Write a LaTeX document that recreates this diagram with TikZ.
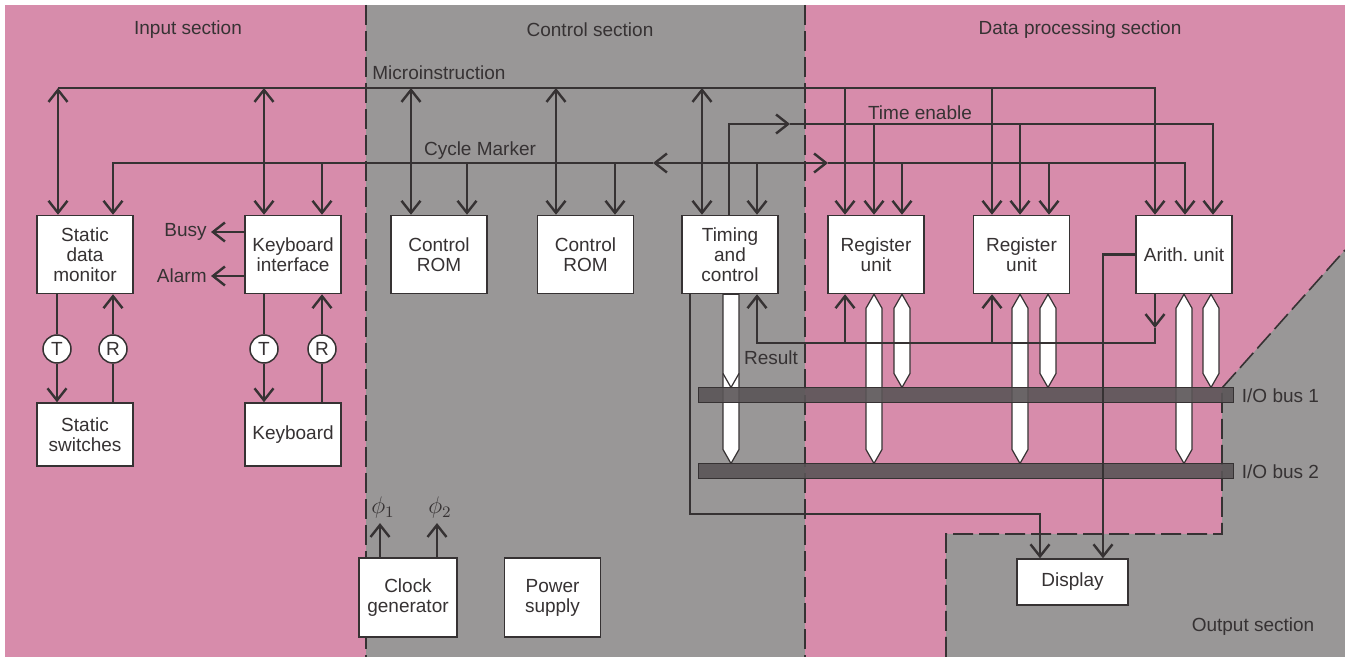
\documentclass[tikz,border=0pt]{standalone}
\usepackage{fontspec}
\setsansfont{Liberation Sans}
\usepackage{tikz}
\usetikzlibrary{arrows.meta, positioning, calc, backgrounds}
\definecolor{ipink}{HTML}{D78CAB}
\definecolor{cgray}{HTML}{999797}
\definecolor{ink}{HTML}{363233}
\definecolor{busgray}{HTML}{5A5557}
\tikzset{
  >={Straight Barb[length=6pt,width=9.5pt]},
  font=\fontsize{9.5}{10}\selectfont\sffamily,
  every node/.style={text=ink},
  wire/.style={draw=ink, line width=1.2pt},
  sig/.style={wire, ->},
  dbl/.style={wire, <->},
  unit/.style={
    draw=ink, fill=white, line width=0.75pt, align=center, inner sep=2pt,
    minimum width=48pt, minimum height=39pt
  },
  port/.style={circle, draw=ink, fill=white, line width=0.75pt, minimum size=14pt, inner sep=0pt},
  fat/.style={draw=ink, fill=white, line width=0.6pt, line join=miter},
  busbar/.style={
    draw=ink, fill=busgray, fill opacity=0.9, line width=0.5pt,
    minimum width=267.5pt, minimum height=7.5pt, inner sep=0pt
  },
  sect/.style={draw=ink, line width=0.8pt, dash pattern=on 10pt off 3pt},
  lab/.style={inner sep=2pt}
}

\begin{document}
\begin{tikzpicture}[x=0.5pt, y=-0.5pt]
  \useasboundingbox (0,0) rectangle (1345,657);
  \begin{pgfonlayer}{background}
    \fill[white] (0,0) rectangle (1345,657);
    \fill[ipink] (5,5) rectangle (1345,657);
    \fill[cgray] (366,5) rectangle (805,657);
    \fill[cgray] (946,657) -- (946,534) -- (1222,534) -- (1222,388) -- (1345,250) -- (1345,657) -- cycle;
    \draw[sect] (366,5) -- (366,657);
    \draw[sect] (805,5) -- (805,657);
    \draw[sect] (946,657) -- (946,534) -- (1222,534) -- (1222,388) -- (1345,250);
  \end{pgfonlayer}

  \node (insec) at (188,30) {Input section};
  \node (ctlsec) at (590,30) {Control section};
  \node (dpsec) at (1080,30) {Data processing section};
  \node (outsec) at (1253,627) {Output section};

  \node[unit] (sdm) at (85,254.5) {Static\\data\\monitor};
  \node[unit] (kbi) at (293,254.5) {Keyboard\\interface};
  \node[unit] (rom1) at (439,254.5) {Control\\ROM};
  \node[unit] (rom2) at (585.5,254.5) {Control\\ROM};
  \node[unit] (tac) at (730,254.5) {Timing\\and\\control};
  \node[unit] (reg1) at (876,254.5) {Register\\unit};
  \node[unit] (reg2) at (1021.5,254.5) {Register\\unit};
  \node[unit] (alu) at (1184,254.5) {Arith.\ unit};
  \node[unit, minimum height=31.5pt] (ssw) at (85,434.5) {Static\\switches};
  \node[unit, minimum height=31.5pt] (kbd) at (293,434.5) {Keyboard};
  \node[unit, minimum width=49pt, minimum height=39.5pt] (clk) at (408,597.5) {Clock\\generator};
  \node[unit, minimum height=39.5pt] (psu) at (552.5,597.5) {Power\\supply};
  \node[unit, minimum width=55.5pt, minimum height=23pt] (disp) at (1072.5,582) {Display};

  \node[port] (t1) at (57,349) {T};
  \node[port] (r1) at (113,349) {R};
  \node[port] (t2) at (264,349) {T};
  \node[port] (r2) at (322,349) {R};

  \node[busbar] (iob1) at (965.5,395.5) {};
  \node[busbar] (iob2) at (965.5,471.5) {};
  \node[lab, right=2pt of iob1] (io1lab) {I/O bus 1};
  \node[lab, right=2pt of iob2] (io2lab) {I/O bus 2};

  \begin{pgfonlayer}{background}
    \foreach \px/\nd/\bus in {874/reg1/iob2, 902/reg1/iob1, 1020/reg2/iob2, 1048/reg2/iob1, 1184/alu/iob2, 1211/alu/iob1}
      \draw[fat] (\px,0 |- \nd.south) -- ++(8,14) -- ($(\px,0 |- \bus.north)+(8,-14)$)
        -- (\px,0 |- \bus.north) -- ++(-8,-14) -- ($(\px,0 |- \nd.south)+(-8,14)$) -- cycle;
    \draw[fat] (723,0 |- tac.south) -- (739,0 |- tac.south) -- ($(731,0 |- iob2.north)+(8,-14)$)
      -- (731,0 |- iob2.north) -- ++(-8,-14) -- cycle;
    \draw[fat, fill=none] ($(731,0 |- iob1.north)+(-8,-14)$) -- (731,0 |- iob1.north) -- ++(8,-14);
  \end{pgfonlayer}

  \coordinate (mi) at (58,88);
  \coordinate (te) at (729,124);
  \coordinate (tearr) at (790,124);
  \coordinate (cm) at (113,163);
  \coordinate (cmw) at (653,163);
  \coordinate (cme) at (828,163);
  \coordinate (res) at (757,343);
  \coordinate (resarr) at (1155,328);
  \coordinate (dispin) at (1040,514);

  \node[lab, anchor=south west] (milab) at (368,84) {Microinstruction};
  \node[lab] (telab) at (920,113) {Time enable};
  \node[lab] (cmlab) at (480,151) {Cycle Marker};
  \node[lab] (reslab) at (771,358) {Result};

  \draw[sig] (mi) -| (1155,0 |- alu.north);
  \foreach \px/\nd in {58/sdm, 264/kbi, 411/rom1, 556/rom2, 702/tac}
    \draw[dbl] (\px,0 |- mi) -- (\px,0 |- \nd.north);
  \foreach \px/\nd in {845/reg1, 992/reg2}
    \draw[sig] (\px,0 |- mi) -- (\px,0 |- \nd.north);

  \draw[sig] (te |- tac.north) -- (te) -- (tearr);
  \draw[sig] (tearr) -| (1213,0 |- alu.north);
  \foreach \px/\nd in {874/reg1, 1020/reg2}
    \draw[sig] (\px,0 |- te) -- (\px,0 |- \nd.north);

  \draw[dbl] (cmw) -- (cme);
  \draw[sig] (cmw) -| (cm |- sdm.north);
  \draw[sig] (cme) -| (1185,0 |- alu.north);
  \foreach \px/\nd in {322/kbi, 467/rom1, 615/rom2, 757/tac, 902/reg1, 1049/reg2}
    \draw[sig] (\px,0 |- cm) -- (\px,0 |- \nd.north);

  \draw[sig] (alu.south -| resarr) -- (resarr);
  \draw[sig] (resarr) |- (res) -- (res |- tac.south);
  \foreach \px/\nd in {845/reg1, 992/reg2}
    \draw[sig] (\px,0 |- res) -- (\px,0 |- \nd.south);

  \draw[sig] (690,0 |- tac.south) |- (dispin) -- (dispin |- disp.north);
  \draw[sig] (alu.west) -| (1103,0 |- disp.north);

  \foreach \t/\r/\up/\dn in {t1/r1/sdm/ssw, t2/r2/kbi/kbd} {
    \draw[wire] (\up.south -| \t) -- (\t);
    \draw[sig] (\t) -- (\t |- \dn.north);
    \draw[wire] (\dn.north -| \r) -- (\r);
    \draw[sig] (\r) -- (\r |- \up.south);
  }

  \node[lab, anchor=east] (busy) at (211,232) {Busy};
  \node[lab, anchor=east] (alarm) at (211,276) {Alarm};
  \draw[sig] (kbi.west |- busy) -- (busy);
  \draw[sig] (kbi.west |- alarm) -- (alarm);

  \node[lab, font=\fontsize{12}{12}\selectfont] (phi1) at (383,508) {$\phi_1$};
  \node[lab, font=\fontsize{12}{12}\selectfont] (phi2) at (440,508) {$\phi_2$};
  \draw[sig] (clk.north -| 380,0) -- (380,0 |- phi1.south);
  \draw[sig] (clk.north -| 437,0) -- (437,0 |- phi2.south);
\end{tikzpicture}
\end{document}
